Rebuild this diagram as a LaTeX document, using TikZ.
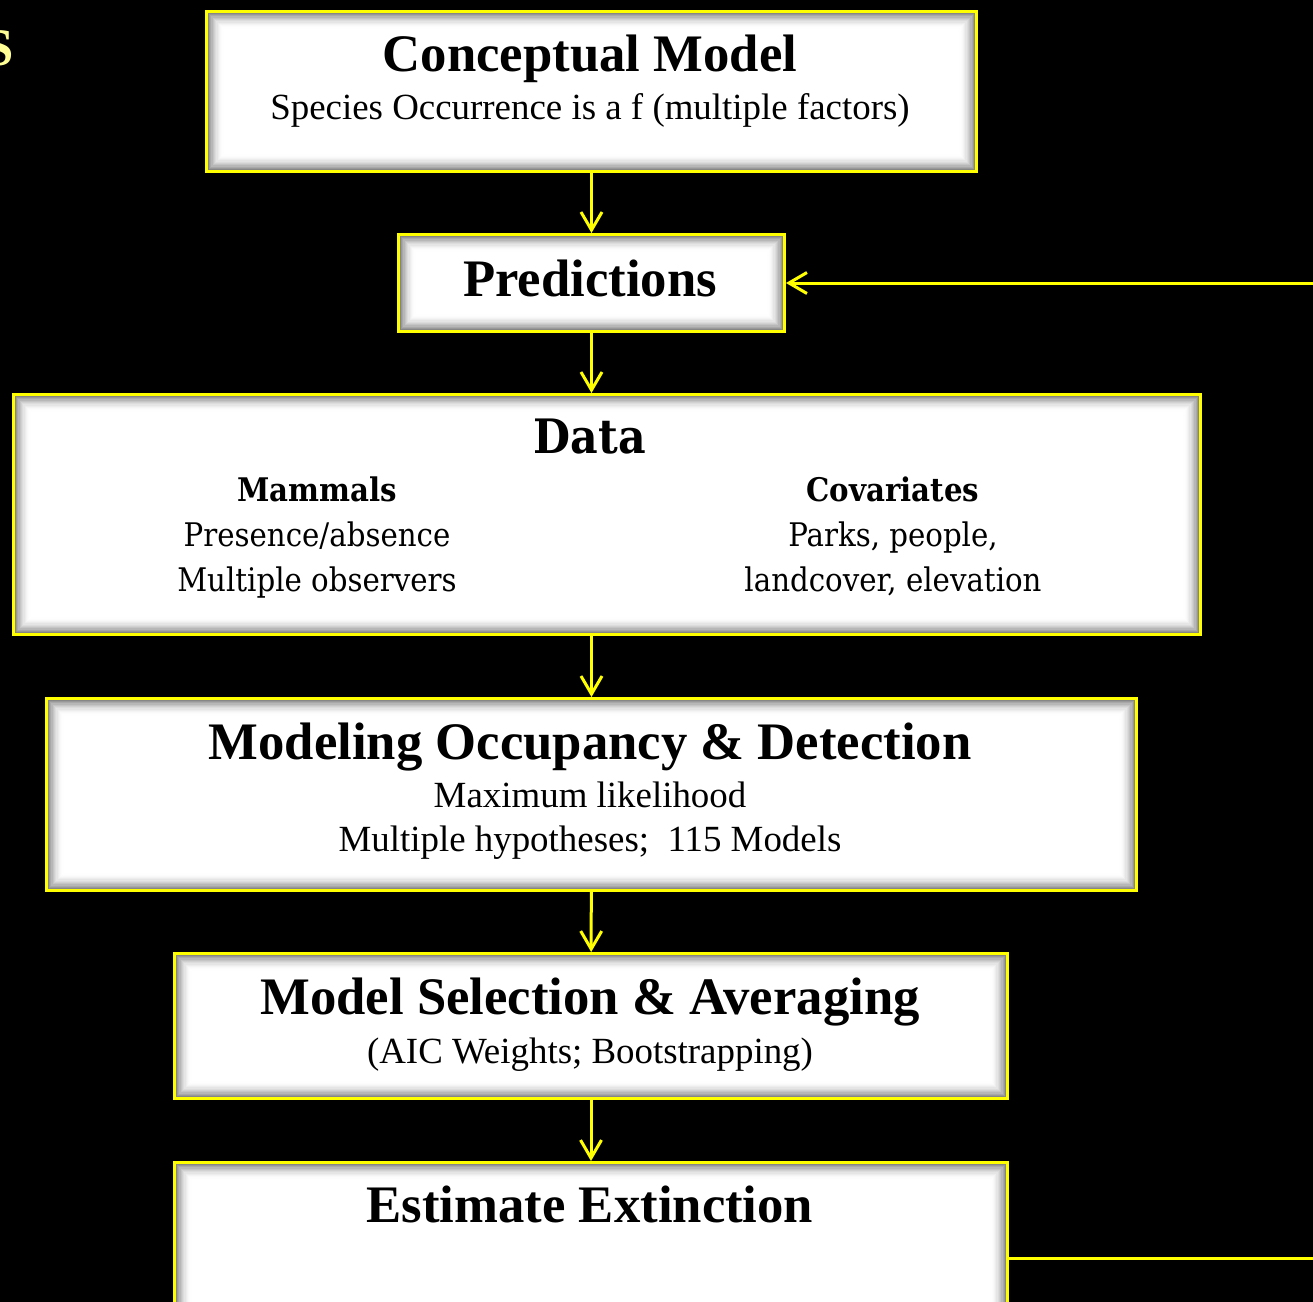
\documentclass[tikz,border=0pt]{standalone}
\usepackage{fontspec}
\setmainfont{Liberation Serif}
\newfontfamily\datafont[FakeStretch=0.9]{DejaVu Serif}
\usetikzlibrary{arrows.meta}

\definecolor{boxline}{RGB}{255,255,0}
\definecolor{headcol}{RGB}{255,255,150}

% one drawing unit is one pixel of the slide
\newcommand\px{0.02cm}

\tikzset{
  stage/.style={draw=boxline, line width=3*\px, inner sep=0pt, anchor=north west,
    path picture={
      % grey glow along the inside of the frame
      \foreach \k in {0,...,14}{
        \pgfmathsetmacro\g{55*(1-\k/14)^2}
        \fill[black!\g] ([shift={(\k*0.7pt,\k*0.7pt)}]path picture bounding box.south west)
          rectangle ([shift={(-\k*0.7pt,-\k*0.7pt)}]path picture bounding box.north east);
      }}},
  flow/.style={draw=boxline, line width=3*\px,
    -{Straight Barb[length=0.36cm, width=0.42cm]}},
  big/.style={font=\fontsize{30}{36}\selectfont\bfseries, anchor=base},
  small/.style={font=\fontsize{21}{25}\selectfont, anchor=base, align=center},
  datatxt/.style={font=\datafont\fontsize{18.5}{25.5}\selectfont, anchor=north, align=center},
}

\begin{document}
\begin{tikzpicture}[x=\px, y=-\px]
  \useasboundingbox (0,0) rectangle (1313,1302);
  \fill[black] (0,0) rectangle (1313,1302);

  \node[headcol, font=\fontsize{30}{36}\selectfont\bfseries, anchor=base east, inner sep=0pt]
    (head) at (14,65) {S};

  % the stages
  \node[stage, minimum width=770*\px, minimum height=160*\px] (cm) at (205,10) {};
  \node[stage, minimum width=386*\px, minimum height=97*\px] (pred) at (397,233) {};
  \node[stage, minimum width=1187*\px, minimum height=240*\px] (data) at (12,393) {};
  \node[stage, minimum width=1090*\px, minimum height=192*\px] (mod) at (45,697) {};
  \node[stage, minimum width=833*\px, minimum height=145*\px] (sel) at (173,952) {};
  \node[stage, minimum width=833*\px, minimum height=192*\px] (est) at (173,1161) {};

  \node[big] (cmtitle) at (590,71) {Conceptual Model};
  \node[small] (cmsub) at (590,119) {Species Occurrence is a f (multiple factors)};

  \node[big] (predtitle) at (590,296) {Predictions};

  \node[font=\datafont\fontsize{27}{32}\selectfont\bfseries, anchor=base] (datatitle) at (590,453) {Data};
  \node[datatxt] (mammals) at (317,471) {{\bfseries Mammals}\\Presence/absence\\Multiple observers};
  \node[datatxt] (covars) at (893,471) {{\bfseries Covariates}\\Parks, people,\\landcover, elevation};

  \node[big] (modtitle) at (590,759) {Modeling Occupancy \& Detection};
  \node[small] (modsub) at (590,807) {Maximum likelihood};
  \node[small] (modsubb) at (590,851) {Multiple hypotheses;\ \ 115 Models};

  \node[big] (seltitle) at (590,1014) {Model Selection \& Averaging};
  \node[small] (selsub) at (590,1063) {(AIC Weights; Bootstrapping)};

  \node[big] (esttitle) at (590,1222) {Estimate Extinction};

  % arrows down the chain
  \draw[flow] (cm) -- (pred);
  \draw[flow] (pred.south) -- (pred.south |- data.north);
  \draw[flow] (data.south -| mod.north) -- (mod.north);
  \draw[flow] (mod) -- (sel);
  \draw[flow] (sel) -- (est);
  % loop back
  \draw[flow] (est.east) -- ++(10cm,0) |- (pred.east);
\end{tikzpicture}
\end{document}
